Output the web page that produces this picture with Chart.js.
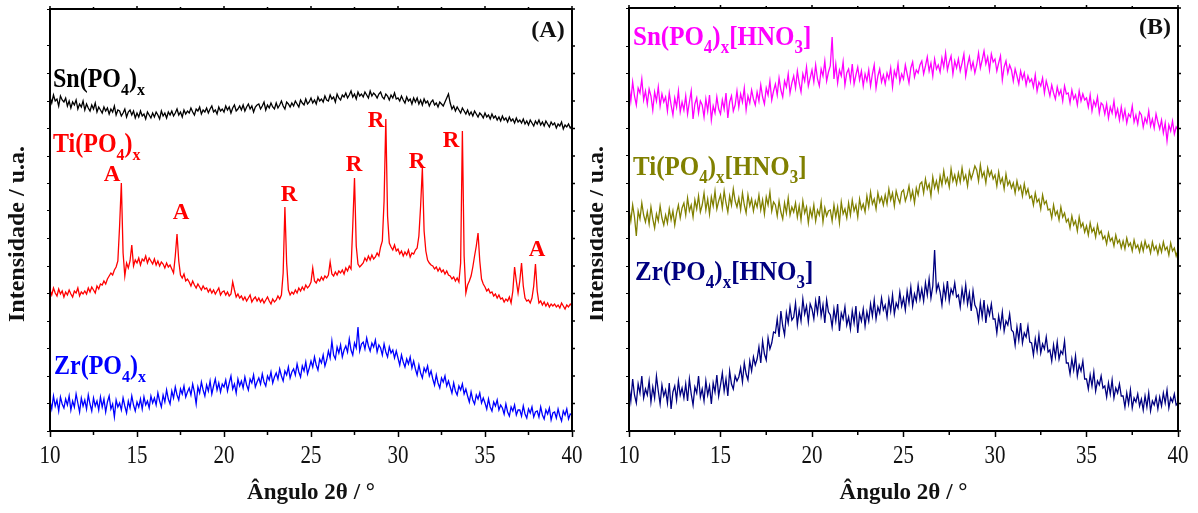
<!DOCTYPE html>
<html>
<head>
<meta charset="utf-8">
<script src="https://cdn.jsdelivr.net/npm/chart.js@4/dist/chart.umd.min.js"></script>
<style>
  body { margin: 0; background: #fff; width: 1198px; height: 513px; overflow: hidden; position: relative; }
  canvas { position: absolute; top: 0; }
  #chartA { left: 0; }
  #chartB { left: 590px; }
</style>
</head>
<body>
<canvas id="chartA" width="590" height="513"></canvas>
<canvas id="chartB" width="608" height="513"></canvas>
<script>
// 2θ from 10 to 40 in steps of 0.1 degree
const angles = [];
for (let i = 0; i <= 300; i++) angles.push(Math.round((10 + i * 0.1) * 10) / 10);

// intensities (arbitrary units, offset per curve)
const snPO4 = [
  334,328,336,330,332,325,335,331,329,333,
  325,330,323,329,326,331,322,327,324,330,
  321,327,323,320,326,322,328,319,324,321,
  318,324,320,323,317,322,319,325,316,321,
  320,315,318,322,314,319,321,316,320,313,
  318,314,320,315,317,312,319,316,313,318,
  314,319,316,312,320,315,318,313,319,316,
  320,315,318,322,316,319,314,321,317,320,
  318,323,319,316,322,320,324,317,321,319,
  323,318,322,325,319,321,317,324,320,322,
  319,325,321,324,318,323,326,320,322,325,
  321,326,320,324,327,322,325,319,324,326,
  327,322,325,329,321,326,323,328,324,322,
  328,323,326,330,325,322,329,327,324,328,
  325,330,327,324,331,328,326,332,327,329,
  333,328,331,327,334,330,332,329,335,331,
  330,336,332,334,329,337,333,331,336,334,
  338,333,336,340,334,337,332,339,335,337,
  334,339,336,333,340,335,338,336,333,337,
  339,334,332,337,335,331,336,333,338,332,
  333,330,335,331,328,334,330,332,327,333,
  329,333,327,331,326,332,328,330,325,329,
  331,326,328,324,329,327,325,329,333,337,
  328,322,325,320,324,321,318,323,320,317,
  321,316,319,315,320,317,314,318,316,313,
  318,314,316,312,317,313,315,311,314,310,
  315,311,313,309,314,310,312,308,313,309,
  311,308,312,307,310,306,311,308,305,310,
  307,311,306,309,305,310,307,304,309,306,
  308,303,307,305,309,302,306,304,307,303,
  305
];
const tiPO4 = [
  141,136,143,138,135,142,137,140,134,139,
  136,141,137,134,140,138,143,135,139,137,
  140,137,143,139,144,141,138,145,142,147,
  146,150,147,152,155,158,156,161,164,170,
  205,248,178,155,168,163,170,186,165,171,
  168,173,166,172,170,175,168,173,170,167,
  172,166,170,165,169,167,163,168,164,166,
  162,158,175,197,170,156,153,157,150,152,
  149,145,150,146,143,147,144,141,145,142,
  143,139,142,138,141,137,140,143,136,139,
  140,136,139,135,137,149,141,134,137,133,
  135,131,134,130,133,136,129,132,134,130,
  133,129,132,128,131,134,130,127,132,129,
  131,135,132,136,158,224,168,141,136,139,
  137,141,138,143,140,144,141,146,143,145,
  149,163,150,148,152,150,154,151,155,153,
  156,169,157,155,159,156,160,158,161,157,
  163,160,165,162,205,253,185,167,164,166,
  168,173,170,175,171,176,172,174,178,175,
  184,190,230,312,215,188,184,181,186,180,
  182,177,180,175,179,176,181,174,178,177,
  181,183,195,225,263,200,180,171,168,166,
  165,162,164,160,163,159,161,157,160,156,
  155,152,154,150,153,149,168,300,175,138,
  146,150,155,164,175,185,198,170,152,147,
  144,140,142,138,139,135,137,133,136,132,
  133,129,132,130,134,128,140,164,150,138,
  150,168,145,133,130,131,128,133,145,167,
  140,128,130,126,129,125,128,124,127,125,
  127,124,126,123,128,125,122,126,124,127,
  125
];
const zrPO4 = [
  30,22,35,25,31,20,34,27,23,32,
  26,35,21,30,24,37,28,19,33,25,
  31,22,36,27,20,33,25,30,21,34,
  24,32,19,29,35,22,27,14,31,24,
  28,21,33,25,18,30,23,35,26,20,
  29,24,32,22,34,26,30,23,35,28,
  33,26,38,30,24,36,29,41,32,27,
  40,33,44,36,31,42,37,45,34,39,
  43,36,47,39,27,44,38,49,41,35,
  46,40,50,37,45,52,41,48,39,47,
  44,51,40,48,55,42,47,38,52,45,
  50,43,54,46,41,52,48,56,44,49,
  53,47,57,49,45,55,51,59,48,54,
  58,52,62,55,50,60,56,64,53,59,
  62,56,67,59,54,65,60,69,57,63,
  70,64,74,66,61,72,68,76,65,71,
  80,73,90,76,72,84,78,86,74,81,
  85,79,92,81,76,88,83,104,80,87,
  89,82,93,85,80,88,84,91,79,86,
  83,76,87,79,74,84,78,81,73,80,
  73,66,76,69,64,72,67,74,63,70,
  62,56,66,58,53,63,59,65,55,60,
  52,46,56,48,43,53,49,55,45,50,
  44,38,48,40,36,45,41,47,37,42,
  35,29,39,31,27,36,32,38,28,33,
  28,22,32,24,20,29,25,31,21,26,
  23,17,27,19,15,24,20,26,16,21,
  21,15,25,17,13,22,18,24,14,19,
  20,14,24,16,12,21,17,23,11,18,
  19,13,22,15,10,20,16,22,12,17,
  16
];
const snHNO3 = [
  345,330,349,335,326,343,338,352,331,340,
  327,342,335,321,339,330,344,325,337,329,
  334,320,338,326,316,333,324,340,319,329,
  321,335,317,329,340,312,327,333,318,330,
  326,314,332,320,336,311,325,318,334,322,
  317,331,322,338,313,329,335,320,326,340,
  324,337,329,343,321,335,328,341,332,326,
  339,330,346,334,327,343,336,350,331,340,
  347,336,353,341,334,350,344,357,338,348,
  355,343,360,348,339,357,350,364,345,353,
  361,349,366,352,345,362,355,370,350,359,
  365,394,352,367,348,361,355,369,346,358,
  362,350,367,347,356,364,351,360,345,357,
  350,361,345,357,366,343,355,362,349,356,
  347,358,352,363,344,360,354,367,349,357,
  352,366,357,348,363,369,354,361,358,366,
  370,357,365,374,360,368,355,372,362,366,
  359,373,364,378,361,369,375,357,370,363,
  372,360,368,377,355,366,374,362,369,358,
  366,378,363,371,380,367,374,361,377,369,
  372,360,368,375,351,364,370,358,366,361,
  350,362,355,347,360,352,358,346,355,349,
  352,344,356,340,349,345,353,338,350,343,
  335,346,338,332,344,336,341,330,345,337,
  338,328,341,332,336,326,340,330,337,331,
  333,324,336,320,330,325,334,318,328,326,
  317,327,313,324,318,330,315,322,311,324,
  312,321,308,317,314,325,309,316,307,319,
  316,304,313,308,320,305,312,303,317,309,
  302,311,298,308,290,306,300,310,297,304,
  301
];
const tiHNO3 = [
  222,210,226,214,195,220,212,228,216,209,
  219,207,224,212,203,217,210,225,213,206,
  216,208,222,211,220,206,218,226,213,223,
  228,216,233,220,226,214,231,222,235,219,
  226,238,221,232,217,234,225,240,222,230,
  236,223,240,228,219,235,226,242,230,224,
  233,221,238,226,218,236,225,232,220,230,
  224,236,221,231,217,234,226,239,220,229,
  226,215,230,219,212,228,218,233,216,224,
  219,228,214,225,211,230,218,224,208,222,
  214,226,210,221,216,229,209,223,215,220,
  221,210,226,214,224,208,229,217,222,213,
  228,216,231,220,226,214,232,222,227,219,
  235,224,239,227,232,222,238,229,234,226,
  236,227,242,231,238,225,240,233,228,239,
  241,230,236,245,232,240,228,243,236,247,
  249,238,252,242,247,235,254,243,250,240,
  255,246,260,248,253,244,262,250,256,247,
  258,249,263,251,256,245,260,252,258,265,
  261,250,266,254,259,248,263,255,260,252,
  256,245,259,248,253,242,257,246,250,243,
  248,238,250,241,245,235,247,237,242,233,
  235,226,238,229,232,222,236,227,230,221,
  222,213,226,216,220,211,224,214,218,209,
  212,203,215,206,210,200,214,204,208,199,
  205,196,208,199,203,194,206,197,200,192,
  195,187,198,190,193,185,196,188,191,183,
  190,182,193,185,188,180,191,183,186,179,
  188,180,190,183,186,178,189,181,185,177,
  186,179,189,181,184,176,188,180,183,175,
  181
];
const zrHNO3 = [
  45,30,52,36,28,47,38,55,33,42,
  36,50,29,44,33,55,40,27,46,35,
  41,28,48,22,39,45,31,50,36,43,
  33,47,30,52,37,26,44,38,55,34,
  42,30,50,36,45,27,48,39,56,35,
  46,58,40,52,35,60,47,42,55,50,
  54,63,49,68,57,51,70,60,74,66,
  72,84,68,90,77,71,93,82,88,99,
  98,112,94,120,105,96,118,108,124,111,
  114,128,106,121,110,132,117,125,109,127,
  122,112,130,118,135,115,126,108,131,119,
  116,104,122,110,127,100,118,112,124,106,
  114,102,120,108,125,98,117,110,122,105,
  119,110,127,115,131,112,124,118,133,121,
  126,114,132,120,136,117,128,123,139,125,
  133,121,140,128,144,125,137,130,146,132,
  142,130,148,136,152,133,145,181,140,147,
  139,126,145,133,150,130,142,137,148,134,
  136,124,142,130,146,127,138,120,140,126,
  122,110,128,114,131,108,124,116,127,112,
  112,98,115,104,119,100,110,106,117,101,
  99,86,104,91,108,88,98,94,105,89,
  88,76,92,80,96,78,87,82,94,79,
  81,70,86,74,89,72,80,77,90,68,
  68,57,72,61,75,55,66,60,70,52,
  52,42,56,45,59,40,50,46,55,43,
  45,34,48,37,51,33,43,38,47,35,
  35,24,38,27,41,23,33,29,37,25,
  32,21,35,24,38,20,30,26,34,22,
  34,25,38,28,41,23,33,29,37,26,
  28
];

const xTicks = [10, 15, 20, 25, 30, 35, 40];
const minorTicks = [12.5, 17.5, 22.5, 27.5, 32.5, 37.5];

// peak labels (anatase / rutile) for Ti(PO4)x, placed in data units
const peakLabels = [
  { text: 'A', angle: 13.56, level: 250 },
  { text: 'A', angle: 17.53, level: 212 },
  { text: 'R', angle: 23.74, level: 230 },
  { text: 'R', angle: 27.47, level: 260 },
  { text: 'R', angle: 28.74, level: 304 },
  { text: 'R', angle: 31.09, level: 263 },
  { text: 'R', angle: 33.05, level: 284 },
  { text: 'A', angle: 37.99, level: 175 }
];

const serif = '"Liberation Serif", "Times New Roman", serif';

function drawText(ctx, text, x, y, o) {
  ctx.save();
  ctx.translate(x, y);
  if (o.rotate) ctx.rotate(o.rotate);
  ctx.scale(o.sx || 1, o.sy || 1);
  ctx.font = (o.bold ? 'bold ' : '') + o.size + 'px ' + serif;
  ctx.fillStyle = o.color || '#111';
  ctx.textAlign = o.align || 'left';
  ctx.textBaseline = o.baseline || 'alphabetic';
  ctx.fillText(text, 0, 0);
  ctx.restore();
}

// text with subscripts: parts = [[text, isSub], ...]
function drawRich(ctx, parts, x, y, size, color) {
  ctx.save();
  ctx.translate(x, y);
  ctx.scale(1, 1.1);
  ctx.fillStyle = color;
  ctx.textBaseline = 'alphabetic';
  let cx = 0;
  for (const [t, sub] of parts) {
    const s = sub ? Math.round(size * 0.68) : size;
    ctx.font = 'bold ' + s + 'px ' + serif;
    ctx.fillText(t, cx, sub ? 7 : 0);
    cx += ctx.measureText(t).width;
  }
  ctx.restore();
}

function makeDecor(panel) {
  return {
    id: 'decor' + panel.tag,
    afterDraw(chart) {
      const ctx = chart.ctx;
      const a = chart.chartArea;
      const xs = chart.scales.x, ys = chart.scales.y;
      const off = panel.offsetX;
      ctx.save();
      ctx.strokeStyle = '#000';
      ctx.lineWidth = 2;
      ctx.strokeRect(a.left, a.top, a.right - a.left, a.bottom - a.top);
      ctx.lineWidth = 1.5;
      ctx.beginPath();
      for (const v of minorTicks) {
        const px = xs.getPixelForValue(v);
        ctx.moveTo(px, a.bottom); ctx.lineTo(px, a.bottom + 4);
        ctx.moveTo(px, a.top); ctx.lineTo(px, a.top - 2);
      }
      for (const v of xTicks) {
        const px = xs.getPixelForValue(v);
        ctx.moveTo(px, a.top); ctx.lineTo(px, a.top - 3);
      }
      for (const t of ys.ticks) {
        const py = ys.getPixelForValue(t.value);
        ctx.moveTo(a.right, py); ctx.lineTo(a.right + 3, py);
      }
      ctx.stroke();
      ctx.restore();

      for (const v of xTicks) {
        drawText(ctx, String(v), xs.getPixelForValue(v), a.bottom + 25,
          { size: 21, sy: 1.2, align: 'center', baseline: 'middle' });
      }
      drawText(ctx, 'Ângulo 2θ / °', (a.left + a.right) / 2, 493,
        { size: 23, bold: true, align: 'center', baseline: 'middle' });
      drawText(ctx, 'Intensidade / u.a.', panel.yTitleX - off, 234,
        { size: 24, bold: true, rotate: -Math.PI / 2, align: 'center', baseline: 'middle' });
      drawText(ctx, panel.tag, panel.tagX - off, panel.tagY,
        { size: 24, bold: true, align: 'center', baseline: 'middle' });
      for (const l of panel.labels) drawRich(ctx, l.parts, l.x - off, l.y, l.size, l.color);
      for (const p of panel.peaks) {
        drawText(ctx, p.text, xs.getPixelForValue(p.angle), ys.getPixelForValue(p.level),
          { size: 23, bold: true, color: '#ff0000', align: 'center' });
      }
    }
  };
}

function makeChart(id, panel, series) {
  return new Chart(document.getElementById(id), {
    type: 'line',
    data: {
      datasets: series.map(s => ({
        data: s.values.map((v, i) => ({ x: angles[i], y: v })),
        borderColor: s.color,
        borderWidth: 1.3,
        pointRadius: 0,
        tension: 0,
        fill: false
      }))
    },
    options: {
      responsive: false,
      animation: false,
      devicePixelRatio: 1,
      layout: { padding: { left: 0, right: panel.padRight, top: panel.padTop, bottom: 0 } },
      plugins: { legend: { display: false }, tooltip: { enabled: false } },
      scales: {
        x: {
          type: 'linear', min: 10, max: 40,
          ticks: { stepSize: 5, display: false },
          grid: { drawOnChartArea: false, tickLength: 6, tickWidth: 1.5, tickColor: '#000' },
          border: { color: '#000', width: 2 },
          afterFit: s => { s.height = 82; }
        },
        y: {
          min: 0, max: panel.yMax,
          ticks: { stepSize: 27.5, display: false },
          grid: { drawOnChartArea: false, tickLength: 3, tickWidth: 1.2, tickColor: '#000' },
          border: { color: '#000', width: 2 },
          afterFit: s => { s.width = panel.yWidth; }
        }
      }
    },
    plugins: [makeDecor(panel)]
  });
}

makeChart('chartA', {
  tag: '(A)', offsetX: 0, padTop: 9, padRight: 18, yWidth: 50, yMax: 422,
  yTitleX: 18, tagX: 548, tagY: 31,
  labels: [
    { parts: [['Sn(PO', 0], ['4', 1], [')', 0], ['x', 1]], x: 53, y: 87, size: 24, color: '#000' },
    { parts: [['Ti(PO', 0], ['4', 1], [')', 0], ['x', 1]], x: 53, y: 152, size: 24, color: '#ff0000' },
    { parts: [['Zr(PO', 0], ['4', 1], [')', 0], ['x', 1]], x: 54, y: 374, size: 24, color: '#0000ff' }
  ],
  peaks: peakLabels
}, [
  { values: snPO4, color: '#000000' },
  { values: tiPO4, color: '#ff0000' },
  { values: zrPO4, color: '#0000ff' }
]);

makeChart('chartB', {
  tag: '(B)', offsetX: 590, padTop: 8, padRight: 20, yWidth: 39, yMax: 423,
  yTitleX: 597, tagX: 1155, tagY: 28,
  labels: [
    { parts: [['Sn(PO', 0], ['4', 1], [')', 0], ['x', 1], ['[HNO', 0], ['3', 1], [']', 0]], x: 633, y: 45, size: 25, color: '#ff00ff' },
    { parts: [['Ti(PO', 0], ['4', 1], [')', 0], ['x', 1], ['[HNO', 0], ['3', 1], [']', 0]], x: 633, y: 175, size: 25, color: '#808000' },
    { parts: [['Zr(PO', 0], ['4', 1], [')', 0], ['x', 1], ['[HNO', 0], ['3', 1], [']', 0]], x: 635, y: 280, size: 25, color: '#000080' }
  ],
  peaks: []
}, [
  { values: snHNO3, color: '#ff00ff' },
  { values: tiHNO3, color: '#808000' },
  { values: zrHNO3, color: '#000080' }
]);
</script>
</body>
</html>
